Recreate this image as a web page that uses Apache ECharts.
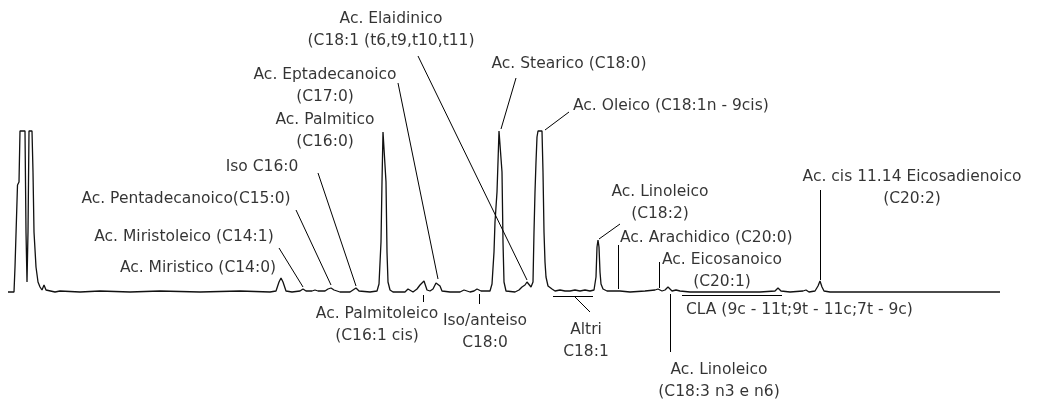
<!DOCTYPE html>
<html>
<head>
<meta charset="utf-8">
<script src="https://cdn.jsdelivr.net/npm/echarts@6/dist/echarts.min.js"></script>
<style>
    html, body { margin: 0; padding: 0; background: #fff; }
    #chart { width: 1038px; height: 401px; }
</style>
</head>
<body>
<div id="chart"></div>
<script>
    // tempo di ritenzione (unita' arbitrarie) e segnale del rivelatore
    const traceTime = [
        8, 14, 15, 17, 17.5, 19, 20, 25, 26, 27, 28, 29, 32, 33, 34, 36, 38, 40, 42, 44, 46, 48, 55, 60, 80, 100, 130, 160, 200, 240,
        270, 276, 279, 281, 283, 286, 292, 300, 303, 306, 312, 315, 318, 325, 328, 331, 334, 340, 350, 353, 356, 359, 370,
        377, 379, 381, 382, 383, 385, 386, 387, 388, 390, 393, 405, 408, 410, 413, 417, 420, 424, 427, 430, 433, 436, 438, 440, 442,
        450, 460, 464, 467, 470, 474, 477, 479, 481, 490, 492, 494, 495, 497, 498, 499, 501, 502, 503, 504, 506, 515,
        519, 522, 525, 527, 529, 531, 533, 534, 535, 536, 537, 538, 542, 543, 544, 545, 546, 548, 552, 555, 560, 565, 570, 575, 580, 585, 590,
        594, 596, 597, 598, 599, 600, 601, 603, 607, 612, 616, 618, 620, 630, 645, 655, 658, 660, 662, 665, 668, 670, 672, 676, 678, 680, 690,
        720, 760, 775, 778, 781, 790, 803, 806, 809, 815, 818, 820, 822, 824, 830, 900, 1000
    ]
    const traceSignal = [
        0, 0, 25, 25, 107, 110, 161, 161, 60, 10, 60, 161, 161, 120, 60, 25, 10, 5, 2, 7, 2, 1, 0, 1, 0, 1, 0, 1, 0, 1,
        0, 1, 10, 14, 10, 1, 0, 1, 3, 1, 1, 2, 1, 1, 3, 4, 2, 0, 0, 2, 4, 1, 0,
        1, 8, 50, 110, 160, 160, 110, 40, 10, 2, 0, 0, 3, 3, 0, 3, 7, 11, 2, 1, 3, 9, 11, 6, 1,
        0, 0, 2, 1, 0, 1, 3, 3, 1, 1, 8, 40, 70, 100, 130, 161, 161, 120, 50, 10, 1, 0,
        2, 5, 7, 10, 8, 5, 10, 60, 100, 130, 155, 161, 161, 120, 60, 30, 15, 6, 3, 1, 2, 1, 1, 2, 1, 2, 1,
        2, 15, 45, 52, 45, 20, 8, 3, 1, 1, 1, 3, 1, 0, 1, 2, 3, 4, 1, 2, 5, 4, 1, 2, 3, 1, 0,
        0, 0, 1, 4, 1, 0, 1, 2, 0, 1, 6, 11, 5, 1, 0, 0, 0
    ]
    // nomi dei picchi
    const peakNames = [
        'Ac. Elaidinico\n(C18:1 (t6,t9,t10,t11)',
        'Ac. Eptadecanoico\n(C17:0)',
        'Ac. Palmitico\n(C16:0)',
        'Iso C16:0',
        'Ac. Pentadecanoico(C15:0)',
        'Ac. Miristoleico (C14:1)',
        'Ac. Miristico (C14:0)',
        'Ac. Stearico (C18:0)',
        'Ac. Oleico (C18:1n - 9cis)',
        'Ac. Linoleico\n(C18:2)',
        'Ac. Arachidico (C20:0)',
        'Ac. Eicosanoico\n(C20:1)',
        'Ac. cis 11.14 Eicosadienoico\n(C20:2)',
        'CLA (9c - 11t;9t - 11c;7t - 9c)',
        'Ac. Palmitoleico\n(C16:1 cis)',
        'Iso/anteiso\nC18:0',
        'Altri\nC18:1',
        'Ac. Linoleico\n(C18:3 n3 e n6)'
    ]

    // posizione delle etichette [x, y, allineamento]
    const labelPlace = [
        [391, 262, 'center'], [325, 206, 'center'], [325, 161, 'center'], [262, 125, 'center'],
        [186, 93, 'center'], [184, 55, 'center'], [198, 24, 'center'], [569, 228, 'center'],
        [573, 186, 'left'], [660, 89, 'center'], [620, 54, 'left'], [722, 21, 'center'],
        [912, 104, 'center'], [686, -18, 'left'], [377, -33, 'center'], [485, -40, 'center'],
        [586, -49, 'center'], [719, -89, 'center']
    ]
    // linee di richiamo
    const leaders = [
        [[418, 236], [527, 12]], [[398, 209], [438, 13]], [[318, 119], [356, 6]], [[296, 82], [331, 7]],
        [[279, 44], [303, 5]], [[516, 214], [501, 163]], [[569, 180], [545, 162]], [[620, 68], [599, 53]],
        [[618, 47], [618, 3]], [[659, 30], [659, 4]], [[820, 102], [820, 12]], [[423, -3], [423, -10]],
        [[479, -2], [479, -12]], [[553, -4], [593, -4]], [[575, -5], [590, -20]], [[682, -3], [782, -3]],
        [[670, -2], [670, -60]]
    ]

    const chart = echarts.init(document.getElementById('chart'))
    const option = {
        animation: false,
        backgroundColor: '#fff',
        grid: { left: 0, right: 0, top: 0, bottom: 0 },
        xAxis: { type: 'value', min: 0, max: 1038, show: false },
        yAxis: { type: 'value', min: -109, max: 292, show: false },
        series: [{
            type: 'line',
            data: traceTime.map((t, i) => [t, traceSignal[i]]),
            showSymbol: false,
            lineStyle: { color: '#111', width: 1.3 },
            markLine: {
                silent: true,
                symbol: 'none',
                label: { show: false },
                lineStyle: { color: '#000', width: 1, type: 'solid' },
                data: leaders.map(l => [{ coord: l[0] }, { coord: l[1] }])
            }
        }, {
            type: 'scatter',
            symbolSize: 1,
            itemStyle: { color: 'rgba(0,0,0,0)' },
            silent: true,
            data: peakNames.map((n, i) => ({
                value: [labelPlace[i][0], labelPlace[i][1]],
                label: {
                    show: true,
                    formatter: n,
                    position: 'inside',
                    align: labelPlace[i][2],
                    verticalAlign: 'middle',
                    color: '#000',
                    fontFamily: 'DejaVu Sans',
                    fontSize: 15.5,
                    lineHeight: 22
                }
            }))
        }]
    }
    chart.setOption(option)
</script>
</body>
</html>
